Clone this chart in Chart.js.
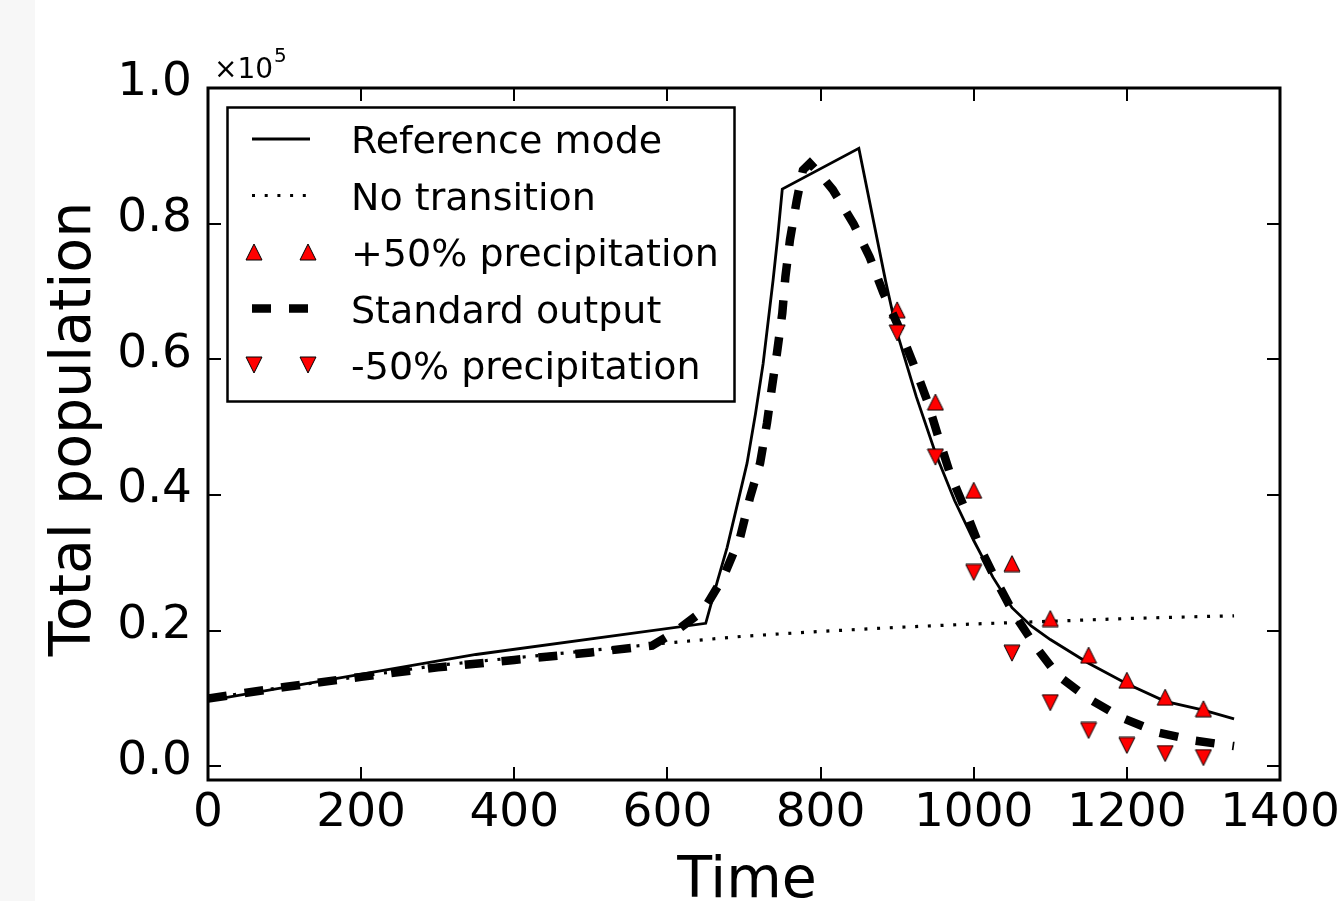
<!DOCTYPE html>
<html><head><meta charset="utf-8">
<script src="https://cdn.jsdelivr.net/npm/chart.js@4.4.0/dist/chart.umd.min.js"></script>
<style>
html,body{margin:0;padding:0;background:#fff;overflow:hidden;}
#wrap{position:relative;width:1343px;height:901px;}
#strip{position:absolute;left:0;top:0;width:35px;height:901px;background:#f7f7f7;}
canvas{position:absolute;left:0;top:0;}
</style></head><body>
<div id="wrap"><div id="strip"></div><canvas id="c" width="1343" height="901"></canvas></div>
<script>
// ---- data (population in units of 10^5) ----
const refTime = [0, 350, 650, 665, 678, 690, 704, 715, 725, 738, 744, 750, 850, 885, 900, 925, 950, 975, 1000, 1025, 1050, 1075, 1100, 1150, 1200, 1250, 1300, 1340];
const refPop  = [0.097, 0.165, 0.211, 0.272, 0.323, 0.380, 0.447, 0.520, 0.594, 0.717, 0.780, 0.851, 0.911, 0.715, 0.639, 0.545, 0.462, 0.392, 0.333, 0.279, 0.234, 0.207, 0.187, 0.152, 0.122, 0.096, 0.083, 0.070];

const noTime = [0, 100, 200, 300, 400, 500, 600, 700, 800, 900, 1000, 1100, 1200, 1300, 1340];
const noPop  = [0.100, 0.117, 0.133, 0.149, 0.160, 0.171, 0.182, 0.192, 0.199, 0.205, 0.210, 0.214, 0.218, 0.221, 0.222];

const stdTime = [0, 100, 200, 300, 400, 500, 580, 612, 647, 673, 695, 708, 721, 730, 736, 743, 750, 754, 760, 769, 777, 786, 800, 816, 843, 864, 882, 900, 921, 939, 954, 969, 989, 1008, 1028, 1052, 1080, 1110, 1150, 1193, 1241, 1289, 1340];
const stdPop  = [0.100, 0.117, 0.132, 0.146, 0.157, 0.168, 0.178, 0.200, 0.230, 0.279, 0.338, 0.397, 0.447, 0.506, 0.555, 0.609, 0.668, 0.721, 0.776, 0.835, 0.879, 0.889, 0.872, 0.850, 0.800, 0.751, 0.698, 0.653, 0.594, 0.540, 0.485, 0.432, 0.378, 0.323, 0.277, 0.226, 0.178, 0.134, 0.100, 0.072, 0.050, 0.038, 0.030];

const precTime = [900, 950, 1000, 1050, 1100, 1150, 1200, 1250, 1300];
const plusPop  = [0.673, 0.537, 0.407, 0.299, 0.218, 0.164, 0.127, 0.102, 0.085];
const minusPop = [0.639, 0.456, 0.286, 0.167, 0.094, 0.053, 0.031, 0.019, 0.013];

const seriesLabels = ['Reference mode', 'No transition', '+50% precipitation', 'Standard output', '-50% precipitation'];
const xTicks = [0, 200, 400, 600, 800, 1000, 1200, 1400];
const yTicks = [0.0, 0.2, 0.4, 0.6, 0.8, 1.0];
const xTitle = 'Time';
const yTitle = 'Total population';

// ---- helpers ----
const FONT = '"DejaVu Sans", "Liberation Sans", sans-serif';
function pts(xs, ys){ return xs.map((x,i)=>({x:x, y:ys[i]})); }
function triCanvas(up){
  const c = document.createElement('canvas'); c.width = 18; c.height = 18;
  const g = c.getContext('2d');
  g.beginPath();
  if (up){ g.moveTo(9,1); g.lineTo(17,17); g.lineTo(1,17); }
  else   { g.moveTo(1,1); g.lineTo(17,1); g.lineTo(9,17); }
  g.closePath(); g.fillStyle = '#ff0000'; g.fill();
  g.lineWidth = 1; g.strokeStyle = '#000'; g.stroke();
  return c;
}
const upImg = triCanvas(true), downImg = triCanvas(false);

Chart.defaults.font.family = FONT;
Chart.defaults.color = '#000';

const decor = {
  id: 'decor',
  afterDatasetsDraw(chart){
    const ctx = chart.ctx, ca = chart.chartArea;
    const xs = chart.scales.x, ys = chart.scales.y;
    ctx.save();
    ctx.strokeStyle = '#000'; ctx.setLineDash([]);
    // inward ticks on all four sides
    ctx.lineWidth = 2;
    ctx.beginPath();
    xTicks.forEach(v=>{
      const p = Math.round(xs.getPixelForValue(v));
      ctx.moveTo(p, ca.bottom); ctx.lineTo(p, ca.bottom-13);
      ctx.moveTo(p, ca.top); ctx.lineTo(p, ca.top+13);
    });
    yTicks.forEach(v=>{
      const p = Math.round(ys.getPixelForValue(v));
      ctx.moveTo(ca.left, p); ctx.lineTo(ca.left+13, p);
      ctx.moveTo(ca.right, p); ctx.lineTo(ca.right-13, p);
    });
    ctx.stroke();
    // frame
    ctx.lineWidth = 3;
    ctx.strokeRect(ca.left, ca.top, ca.right-ca.left, ca.bottom-ca.top);

    // legend
    const lx = 227.5, ly = 107.5, lw = 507, lh = 294;
    ctx.fillStyle = '#fff'; ctx.fillRect(lx, ly, lw, lh);
    ctx.lineWidth = 2.5; ctx.strokeRect(lx, ly, lw, lh);
    const rows = [139, 195.5, 252, 308.5, 365];
    chart.data.datasets.forEach((ds, i)=>{
      const y = rows[i];
      if (ds.showLine){
        ctx.save();
        ctx.strokeStyle = ds.borderColor; ctx.lineWidth = ds.borderWidth;
        ctx.setLineDash(ds.borderDash || []); ctx.lineCap = 'butt';
        ctx.beginPath(); ctx.moveTo(252, y); ctx.lineTo(310, y); ctx.stroke();
        ctx.restore();
      } else {
        const im = ds.pointStyle;
        ctx.drawImage(im, 254 - im.width/2, y - im.height/2);
        ctx.drawImage(im, 308 - im.width/2, y - im.height/2);
      }
      ctx.fillStyle = '#000'; ctx.font = '38px ' + FONT;
      ctx.textAlign = 'left'; ctx.textBaseline = 'alphabetic';
      ctx.fillText(ds.label, 351, y + 14);
    });

    // axis titles
    ctx.fillStyle = '#000';
    ctx.font = '57px ' + FONT; ctx.textAlign = 'center'; ctx.textBaseline = 'alphabetic';
    ctx.fillText(xTitle, (ca.left+ca.right)/2 + 3, 897);
    ctx.save();
    ctx.translate(90, (ca.top+ca.bottom)/2 - 5);
    ctx.rotate(-Math.PI/2);
    ctx.fillText(yTitle, 0, 0);
    ctx.restore();

    // offset text x10^5
    ctx.textAlign = 'left';
    ctx.font = '28px ' + FONT;
    ctx.fillText('\u00d710', 214, 78);
    const w = ctx.measureText('\u00d710').width;
    ctx.font = '20px ' + FONT;
    ctx.fillText('5', 214 + w + 1, 62);
    ctx.restore();
  }
};

new Chart(document.getElementById('c'), {
  type: 'scatter',
  data: {
    datasets: [
      { label: seriesLabels[0], data: pts(refTime, refPop), showLine: true, borderColor: '#000', borderWidth: 2.8, pointRadius: 0, tension: 0, order: 5 },
      { label: seriesLabels[1], data: pts(noTime, noPop), showLine: true, borderColor: '#000', borderWidth: 3.2, borderDash: [3, 9.7], pointRadius: 0, tension: 0, order: 4 },
      { label: seriesLabels[2], data: pts(precTime, plusPop), showLine: false, pointStyle: upImg, pointRadius: 9, order: 3 },
      { label: seriesLabels[3], data: pts(stdTime, stdPop), showLine: true, borderColor: '#000', borderWidth: 8.5, borderDash: [19, 18], pointRadius: 0, tension: 0, order: 2 },
      { label: seriesLabels[4], data: pts(precTime, minusPop), showLine: false, pointStyle: downImg, pointRadius: 9, order: 1 }
    ]
  },
  options: {
    responsive: false, animation: false,
    layout: { padding: { left: 0, right: 63, top: 88, bottom: 0 } },
    plugins: { legend: { display: false }, tooltip: { enabled: false } },
    scales: {
      x: {
        type: 'linear', min: 0, max: 1400,
        afterBuildTicks: s => { s.ticks = xTicks.map(v=>({value:v})); },
        afterFit: s => { s.height = 121; s.paddingLeft = 0; s.paddingRight = 0; },
        grid: { display: false, drawTicks: false }, border: { display: false },
        ticks: { font: { size: 47 }, color: '#000', padding: 6, maxRotation: 0, autoSkip: false, callback: v => String(v) }
      },
      y: {
        type: 'linear', min: -0.02, max: 1.0,
        afterBuildTicks: s => { s.ticks = yTicks.map(v=>({value:v})); },
        afterFit: s => { s.width = 208; s.paddingTop = 0; s.paddingBottom = 0; },
        grid: { display: false, drawTicks: false }, border: { display: false },
        ticks: { font: { size: 47 }, color: '#000', padding: 16, labelOffset: -5, autoSkip: false, callback: v => Number(v).toFixed(1) }
      }
    }
  },
  plugins: [decor]
});
</script>
</body></html>
